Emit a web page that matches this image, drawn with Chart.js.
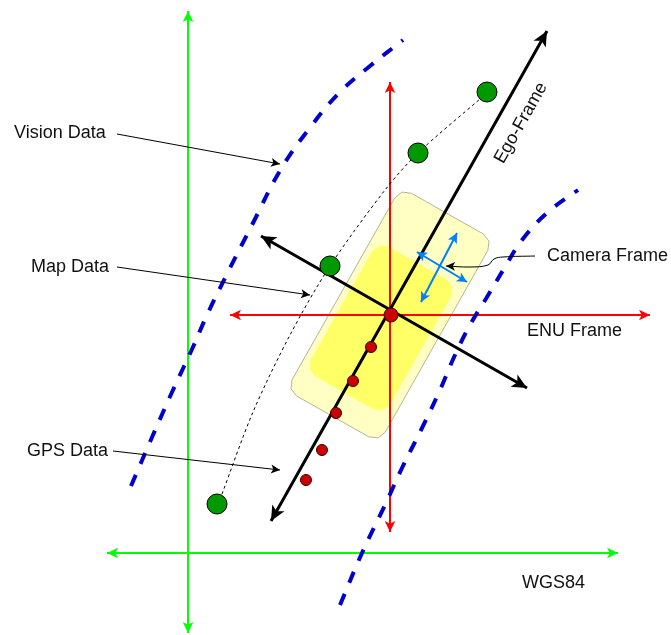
<!DOCTYPE html>
<html>
<head>
<meta charset="utf-8">
<script src="https://cdn.jsdelivr.net/npm/chart.js@4/dist/chart.umd.min.js"></script>
<style>
  html, body { margin: 0; padding: 0; background: #ffffff; }
  #wrap { width: 671px; height: 635px; }
</style>
</head>
<body>
<div id="wrap"><canvas id="c" width="671" height="635"></canvas></div>
<script>
// ---------- diagram data (x, y in drawing units) ----------
const vehicleOuter = [[394.9,197.7],[402.1,192.1],[411.2,193.2],[483.4,234.0],[489.0,241.2],[487.9,250.3],
  [385.1,432.3],[377.9,437.9],[368.8,436.8],[296.6,396.0],[291.0,388.8],[292.1,379.7],[394.9,197.7]];
const vehicleInner = [[372.2,251.2],[379.4,245.6],[388.5,246.7],[446.9,279.7],[452.5,286.9],[451.4,296.0],
  [389.8,404.8],[382.6,410.4],[373.5,409.3],[315.1,376.3],[309.5,369.1],[310.6,360.0],[372.2,251.2]];

const wgsVertical   = [[188,633],[188,11]];
const wgsHorizontal = [[107,553],[618,553]];
const enuVertical   = [[390,532],[390,82]];
const enuHorizontal = [[230,315],[650,315]];
const egoForward    = [[271,521],[547,31]];
const egoLateral    = [[261,236],[527,388]];
const camAxisA      = [[421,302],[457,233]];
const camAxisB      = [[417,252],[467,282]];

const visionLeft  = [[131,486],[153,435],[173,390],[193,347],[207,315],[225,278],[252,225],[281,169],
  [312,125],[340,92],[370,66],[403,40]];
const visionRight = [[340,605],[362,553],[385,505],[402,468],[422,428],[440,390],[455,355],[470,325],
  [487,297],[505,267],[522,240],[548,212],[578,190]];

const mapLine   = [[222,494],[253,412],[290,335],[330,266],[385,190],[418,153],[480,99]];
const mapPoints = [[217,504],[330,266],[418,153],[487,92]];
const gpsPoints = [[306,480],[322,450],[336,413],[353,381],[371,347],[391,315]];
const gpsRadius = [5.5,5.5,5.5,5.5,5.5,7];

const leaderVision = [[117,134],[280,164]];
const leaderMap    = [[117,267],[310,295]];
const leaderGps    = [[113,451],[280,470]];
const leaderCamera = [[535,256],[503,257],[494,259],[488,265],[470,267],[446,266]];

const labelText = ['Vision Data','Map Data','GPS Data','Camera Frame','ENU Frame','WGS84','Ego-Frame'];
const labelPos  = [[14,133,'left',0],[31,267,'left',0],[27,451,'left',0],[547,256,'left',0],
  [527,331,'left',0],[522,583,'left',0],[521,123,'center',-60.5]];

// ---------- helpers ----------
const xy = arr => arr.map(p => ({x: p[0], y: p[1]}));
function lineDs(data, color, width, extra) {
  return Object.assign({
    data: xy(data), borderColor: color, borderWidth: width, pointRadius: 0,
    fill: false, tension: 0, borderCapStyle: 'butt', borderJoinStyle: 'round'
  }, extra || {});
}

const layers = [
  lineDs(vehicleOuter, '#b4b49a', 1, {fill: 'shape', backgroundColor: '#ffffc4'}),
  lineDs(vehicleInner, 'rgba(0,0,0,0)', 0, {fill: 'shape', backgroundColor: '#ffff66'}),
  lineDs(wgsVertical, '#00ff00', 2, {arrow: {start: true, end: true, L: 11, W: 5.3}}),
  lineDs(wgsHorizontal, '#00ff00', 2, {arrow: {start: true, end: true, L: 11, W: 5.3}}),
  lineDs(enuVertical, '#ff0000', 2, {arrow: {start: true, end: true, L: 11, W: 5.3}}),
  lineDs(enuHorizontal, '#ff0000', 2, {arrow: {start: true, end: true, L: 11, W: 5.3}}),
  lineDs(visionLeft, '#0000cc', 4, {tension: 0.4, borderDash: [12, 12]}),
  lineDs(visionRight, '#0000cc', 4, {tension: 0.4, borderDash: [12, 12]}),
  lineDs(mapLine, '#000000', 1, {tension: 0.3, borderDash: [3, 3]}),
  lineDs(egoLateral, '#000000', 3, {arrow: {start: true, end: true, L: 15, W: 7}}),
  lineDs(egoForward, '#000000', 3, {arrow: {start: true, end: true, L: 15, W: 7}}),
  lineDs(camAxisA, '#007fff', 2, {arrow: {start: true, end: true, L: 10, W: 5}}),
  lineDs(camAxisB, '#007fff', 2, {arrow: {start: true, end: true, L: 10, W: 5}}),
  lineDs(leaderVision, '#000000', 1, {arrow: {end: true, L: 9, W: 4.5}}),
  lineDs(leaderMap, '#000000', 1, {arrow: {end: true, L: 9, W: 4.5}}),
  lineDs(leaderGps, '#000000', 1, {arrow: {end: true, L: 9, W: 4.5}}),
  lineDs(leaderCamera, '#000000', 1, {tension: 0.4, arrow: {end: true, L: 9, W: 4.5}}),
  {data: xy(mapPoints), showLine: false, pointRadius: 10, pointBackgroundColor: '#009900',
   pointBorderColor: '#000000', pointBorderWidth: 1},
  {data: xy(gpsPoints), showLine: false, pointRadius: gpsRadius, pointBackgroundColor: '#cc0000',
   pointBorderColor: '#330000', pointBorderWidth: 1}
];
// bottom-first list -> higher order drawn first
layers.forEach((d, i) => { d.order = layers.length - i; });

const arrowPlugin = {
  id: 'arrowHeads',
  afterDatasetsDraw(chart) {
    const ctx = chart.ctx;
    chart.data.datasets.forEach((ds, i) => {
      if (!ds.arrow) return;
      const pts = chart.getDatasetMeta(i).data;
      const n = pts.length;
      const a = ds.arrow;
      const head = (from, tip) => {
        const ang = Math.atan2(tip.y - from.y, tip.x - from.x);
        ctx.save();
        ctx.translate(tip.x, tip.y);
        ctx.rotate(ang);
        ctx.beginPath();
        ctx.moveTo(0, 0);
        ctx.lineTo(-a.L, -a.W);
        ctx.lineTo(-a.L * 0.75, 0);
        ctx.lineTo(-a.L, a.W);
        ctx.closePath();
        ctx.fillStyle = ds.borderColor;
        ctx.fill();
        ctx.restore();
      };
      if (a.end) head(pts[n - 2], pts[n - 1]);
      if (a.start) head(pts[1], pts[0]);
    });
  }
};

const textPlugin = {
  id: 'diagramText',
  afterDraw(chart) {
    const ctx = chart.ctx, sx = chart.scales.x, sy = chart.scales.y;
    ctx.save();
    ctx.font = '18px "Liberation Sans", Arial, sans-serif';
    ctx.fillStyle = '#111111';
    ctx.textBaseline = 'middle';
    labelText.forEach((t, i) => {
      const [px, py, align, rot] = labelPos[i];
      ctx.save();
      ctx.translate(sx.getPixelForValue(px), sy.getPixelForValue(py));
      ctx.rotate(rot * Math.PI / 180);
      ctx.textAlign = align;
      ctx.fillText(t, 0, 0);
      ctx.restore();
    });
    ctx.restore();
  }
};

new Chart(document.getElementById('c'), {
  type: 'line',
  data: { datasets: layers },
  options: {
    responsive: false,
    animation: false,
    events: [],
    layout: { padding: 0, autoPadding: false },
    plugins: { legend: { display: false }, tooltip: { enabled: false } },
    scales: {
      x: { type: 'linear', min: 0, max: 671, display: false },
      y: { type: 'linear', min: 0, max: 635, reverse: true, display: false }
    }
  },
  plugins: [arrowPlugin, textPlugin]
});
</script>
</body>
</html>
